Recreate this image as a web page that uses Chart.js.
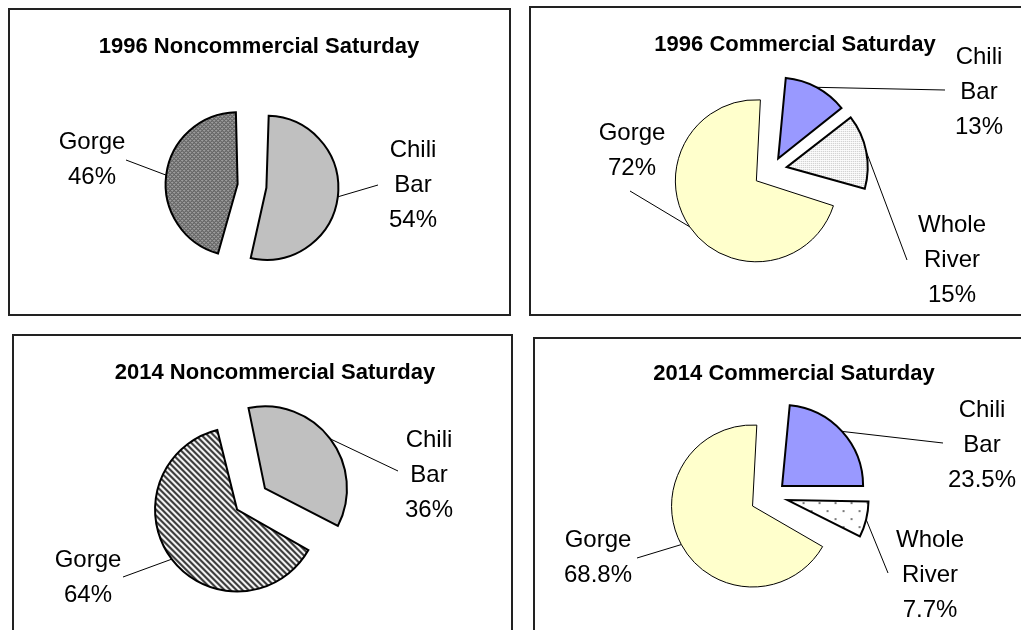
<!DOCTYPE html>
<html>
<head>
<meta charset="utf-8">
<script src="https://cdn.jsdelivr.net/npm/chart.js@4.4.1/dist/chart.umd.min.js"></script>
<style>
body { margin: 0; background: #fff; width: 1021px; height: 630px; overflow: hidden; position: relative; }
.painel { position: absolute; border: 2px solid #222; box-sizing: border-box; }
canvas { position: absolute; left: 0; top: 0; }
</style>
</head>
<body>
<div class="painel" style="left:8px;top:8px;width:503px;height:308px"></div>
<div class="painel" style="left:529px;top:6px;width:600px;height:310px"></div>
<div class="painel" style="left:12px;top:334px;width:501px;height:400px"></div>
<div class="painel" style="left:533px;top:337px;width:600px;height:400px"></div>
<canvas id="grafico1" width="1021" height="630"></canvas>
<canvas id="grafico2" width="1021" height="630"></canvas>
<canvas id="grafico3" width="1021" height="630"></canvas>
<canvas id="grafico4" width="1021" height="630"></canvas>
<script>
// data
const categoriesNoncom = ['Chili Bar', 'Gorge'];
const categoriesCom = ['Chili Bar', 'Whole River', 'Gorge'];
const values1996Noncom = [54, 46];
const values1996Com = [13, 15, 72];
const values2014Noncom = [36, 64];
const values2014Com = [23.5, 7.7, 68.8];
const titles = ['1996 Noncommercial Saturday', '1996 Commercial Saturday', '2014 Noncommercial Saturday', '2014 Commercial Saturday'];

const W = 1021, H = 630;

function tile(ctx, size, paint) {
    var c = document.createElement('canvas');
    c.width = size; c.height = size;
    var g = c.getContext('2d');
    paint(g, size);
    return ctx.createPattern(c, 'repeat');
}

function crosshatch(ctx) {
    return tile(ctx, 4, function (g, s) {
        g.fillStyle = '#a4a4a4';
        g.fillRect(0, 0, s, s);
        g.fillStyle = '#3a3a3a';
        for (var x = 0; x < s; x++) {
            for (var y = 0; y < s; y++) {
                if ((x + y) % 4 == 0 || (x - y + 4) % 4 == 0) g.fillRect(x, y, 1, 1);
            }
        }
    });
}

function stripes(ctx) {
    return tile(ctx, 6, function (g, s) {
        g.fillStyle = '#f4f4f4';
        g.fillRect(0, 0, s, s);
        g.fillStyle = '#3c3c3c';
        for (var x = 0; x < s; x++) {
            for (var y = 0; y < s; y++) {
                if ((x - y + 12) % 6 < 3) g.fillRect(x, y, 1, 1);
            }
        }
    });
}

function fineDots(ctx) {
    return tile(ctx, 2, function (g, s) {
        g.fillStyle = '#fff';
        g.fillRect(0, 0, s, s);
        g.fillStyle = '#bcbcbc';
        g.fillRect(0, 0, 1, 1);
    });
}

function sparseDots(ctx) {
    return tile(ctx, 16, function (g, s) {
        g.fillStyle = '#fff';
        g.fillRect(0, 0, s, s);
        g.fillStyle = '#7a7a7a';
        g.fillRect(2, 2, 2, 2);
        g.fillRect(10, 10, 2, 2);
    });
}

var pieLabels = {
    id: 'pieLabels',
    afterDatasetsUpdate: function (chart) {
        // keep every exploded slice at the same radius
        var conf = chart.options.plugins.pieLabels;
        chart.getDatasetMeta(0).data.forEach(function (arc) {
            var shift = (arc.options.offset || 0) / 4;
            var circ = arc.endAngle - arc.startAngle;
            var fix = 1 - Math.sin(Math.min(Math.PI, circ));
            arc.outerRadius = conf.radius - shift * fix;
        });
    },
    afterDraw: function (chart) {
        var conf = chart.options.plugins.pieLabels;
        var ctx = chart.ctx;
        var meta = chart.getDatasetMeta(0);
        var ds = chart.data.datasets[0];
        var cx = meta.data[0].x, cy = meta.data[0].y;
        ctx.save();
        ctx.fillStyle = '#000';
        ctx.textAlign = 'center';
        ctx.textBaseline = 'alphabetic';
        ctx.font = 'bold 22px "Liberation Sans", Arial, sans-serif';
        ctx.fillText(conf.title, conf.titleX, conf.titleY);

        ctx.font = '24px "Liberation Sans", Arial, sans-serif';
        ctx.strokeStyle = '#000';
        ctx.lineWidth = 1;
        meta.data.forEach(function (arc, i) {
            var p = conf.places[i];
            var mid = (arc.startAngle + arc.endAngle) / 2;
            var shift = (arc.options.offset || 0) / 4;
            var ex = cx + Math.cos(mid) * (shift + conf.radius);
            var ey = cy + Math.sin(mid) * (shift + conf.radius);
            ctx.beginPath();
            ctx.moveTo(cx + p.lx, cy + p.ly);
            ctx.lineTo(ex, ey);
            ctx.stroke();
            var lines = chart.data.labels[i].split(' ').concat([ds.data[i] + '%']);
            lines.forEach(function (t, k) {
                ctx.fillText(t, cx + p.x, cy + p.y + k * 35);
            });
        });
        ctx.restore();
    }
};

function makePie(id, categories, values, colors, borders, explode, layout) {
    var canvas = document.getElementById(id);
    var h = Math.min(layout.cx, W - layout.cx, layout.cy, H - layout.cy) - 2;
    return new Chart(canvas, {
        type: 'pie',
        data: {
            labels: categories,
            datasets: [{
                data: values,
                backgroundColor: colors,
                borderColor: '#000',
                borderWidth: borders,
                borderJoinStyle: 'miter',
                offset: explode.map(function (d) { return d * 4; }),
                radius: layout.radius
            }]
        },
        options: {
            responsive: false,
            animation: false,
            events: [],
            rotation: layout.rotation,
            layout: {
                padding: {
                    left: layout.cx - h,
                    right: W - layout.cx - h,
                    top: layout.cy - h,
                    bottom: H - layout.cy - h
                }
            },
            plugins: {
                legend: { display: false },
                tooltip: { enabled: false },
                pieLabels: {
                    radius: layout.radius,
                    title: layout.title,
                    titleX: layout.titleX,
                    titleY: layout.titleY,
                    places: layout.places
                }
            }
        },
        plugins: [pieLabels]
    });
}

var ctx1 = document.getElementById('grafico1').getContext('2d');
var ctx2 = document.getElementById('grafico2').getContext('2d');
var ctx3 = document.getElementById('grafico3').getContext('2d');
var ctx4 = document.getElementById('grafico4').getContext('2d');

makePie('grafico1', categoriesNoncom, values1996Noncom,
    ['#c0c0c0', crosshatch(ctx1)], [2, 2], [14.5, 14.5],
    {
        cx: 252, cy: 186, radius: 72, rotation: 0,
        title: titles[0], titleX: 259, titleY: 53,
        places: [{ x: 161, y: -29, lx: 126, ly: -1 }, { x: -160, y: -37, lx: -126, ly: -26 }]
    });

makePie('grafico2', categoriesCom, values1996Com,
    ['#9999ff', fineDots(ctx2), '#ffffcc'], [2, 2, 1], [13, 15, 19],
    {
        cx: 772, cy: 170, radius: 81, rotation: 5,
        title: titles[1], titleX: 795, titleY: 51,
        places: [{ x: 207, y: -106, lx: 173, ly: -80 }, { x: 180, y: 62, lx: 135, ly: 90 }, { x: -140, y: -30, lx: -142, ly: 21 }]
    });

makePie('grafico3', categoriesNoncom, values2014Noncom,
    ['#c0c0c0', stripes(ctx3)], [2, 2], [17.5, 17.5],
    {
        cx: 251, cy: 499, radius: 82, rotation: -12,
        title: titles[2], titleX: 275, titleY: 379,
        places: [{ x: 178, y: -52, lx: 147, ly: -28 }, { x: -163, y: 68, lx: -128, ly: 78 }]
    });

makePie('grafico4', categoriesCom, values2014Com,
    ['#9999ff', sparseDots(ctx4), '#ffffcc'], [2, 2, 1], [15, 17, 21],
    {
        cx: 771, cy: 496, radius: 81, rotation: 5.4,
        title: titles[3], titleX: 794, titleY: 380,
        places: [{ x: 211, y: -79, lx: 172, ly: -53 }, { x: 159, y: 51, lx: 117, ly: 77 }, { x: -173, y: 51, lx: -134, ly: 62 }]
    });
</script>
</body>
</html>
